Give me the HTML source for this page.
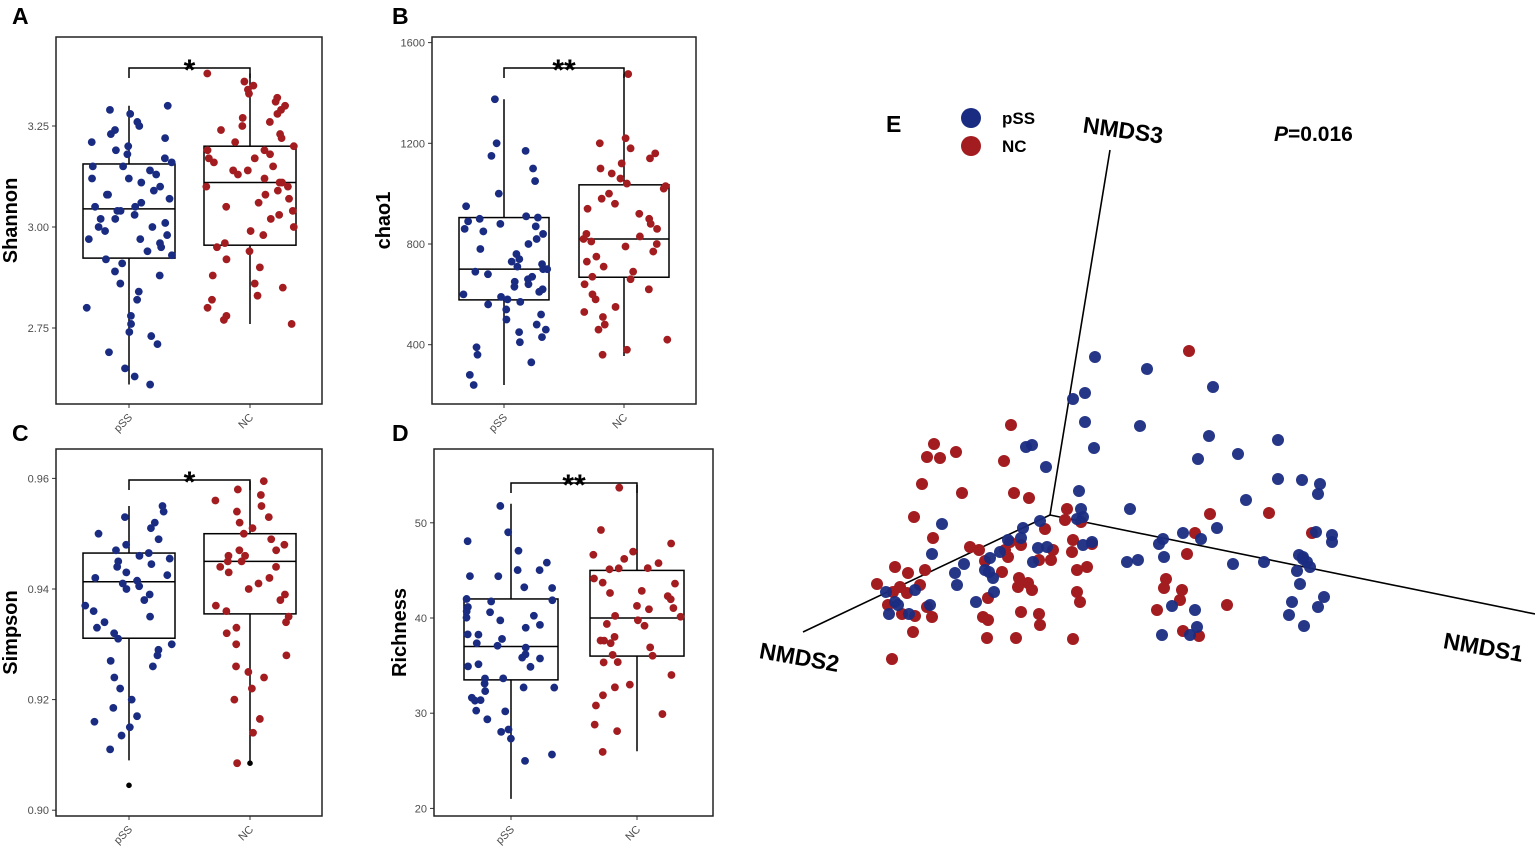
<!DOCTYPE html>
<html><head><meta charset="utf-8">
<style>
html,body{margin:0;padding:0;background:#fff;}
svg{display:block;font-family:"Liberation Sans",Arial,sans-serif;}
</style></head>
<body>
<svg id="fig" width="1535" height="849" viewBox="0 0 1535 849" xmlns="http://www.w3.org/2000/svg">
<g id="panels"></g>
</svg>
<script>
// ---------- data ----------
const groups = ["pSS","NC"];
const shannonPSS = [2.61,2.63,2.65,2.69,2.71,2.73,2.74,2.76,2.78,2.80,2.82,2.84,2.86,2.88,2.89,2.91,2.92,2.93,2.94,2.95,2.96,2.97,2.97,2.98,2.99,3.00,3.00,3.01,3.02,3.02,3.03,3.04,3.04,3.05,3.05,3.06,3.07,3.08,3.08,3.09,3.10,3.11,3.12,3.12,3.13,3.14,3.15,3.15,3.16,3.17,3.18,3.19,3.20,3.21,3.22,3.23,3.24,3.25,3.26,3.28,3.29,3.30];
const shannonNC = [2.76,2.77,2.78,2.80,2.82,2.83,2.85,2.86,2.88,2.90,2.92,2.94,2.95,2.96,2.98,2.99,3.00,3.02,3.03,3.04,3.05,3.06,3.07,3.08,3.09,3.10,3.10,3.11,3.11,3.12,3.13,3.14,3.14,3.15,3.16,3.17,3.17,3.18,3.19,3.19,3.20,3.21,3.22,3.23,3.24,3.25,3.26,3.27,3.28,3.29,3.30,3.31,3.32,3.33,3.34,3.35,3.36,3.38];
const shannonBox = [[2.61,2.923,3.045,3.156,3.30],[2.76,2.955,3.11,3.20,3.38]];
const shannonTicks = [2.75,3.00,3.25];

const chaoPSS = [240,280,330,360,390,410,430,450,460,480,500,520,540,560,570,580,590,600,610,620,630,640,650,660,670,680,690,700,700,710,720,730,740,760,780,800,820,840,850,860,870,880,890,900,905,910,950,1000,1050,1100,1150,1170,1200,1375];
const chaoNC = [360,380,420,460,480,510,530,550,580,600,620,640,660,670,690,710,730,750,770,790,800,810,820,830,840,860,880,900,920,940,960,980,1000,1020,1030,1040,1060,1080,1100,1120,1140,1160,1180,1200,1220,1475];
const chaoBox = [[240,578,700,905,1375],[355,668,820,1035,1475]];
const chaoTicks = [400,800,1200,1600];

const simpPSS = [0.911,0.9135,0.915,0.916,0.917,0.9185,0.920,0.922,0.924,0.926,0.927,0.928,0.929,0.930,0.931,0.932,0.933,0.934,0.935,0.936,0.937,0.938,0.939,0.940,0.9405,0.941,0.9415,0.942,0.9425,0.943,0.944,0.9445,0.945,0.9455,0.946,0.9465,0.947,0.948,0.949,0.950,0.951,0.952,0.953,0.954,0.955];
const simpNC = [0.9085,0.914,0.9165,0.920,0.922,0.924,0.925,0.926,0.928,0.930,0.932,0.933,0.934,0.935,0.936,0.937,0.938,0.939,0.940,0.941,0.942,0.943,0.944,0.944,0.945,0.945,0.946,0.946,0.947,0.947,0.948,0.949,0.950,0.951,0.952,0.953,0.954,0.955,0.956,0.957,0.958,0.9595];
const simpBox = [[0.909,0.9311,0.9413,0.9465,0.955],[0.9085,0.9355,0.945,0.950,0.9595]];
const simpOutliers = [[0.9045],[0.9085]];
const simpTicks = [0.90,0.92,0.94,0.96];

const richPSS = [25,26,27,28,28,29,30,30,31,31,32,32,33,33,33,34,34,35,35,35,36,36,36,37,37,37,38,38,38,39,39,40,40,40,41,41,41,42,42,42,43,43,44,44,45,45,46,47,48,49,52];
const richNC = [26,28,29,30,31,32,33,33,34,35,35,36,36,37,37,38,38,38,39,39,40,40,40,41,41,41,42,42,43,43,44,44,44,45,45,45,46,46,47,47,48,49,54];
const richBox = [[21,33.5,37,42,52],[26,36,40,45,54]];
const richTicks = [20,30,40,50];

// NMDS projected coordinates (u right, v up relative to origin)
const nmdsBlueU = [45,97,163,23,35,35,90,159,228,148,188,44,228,252,270,268,196,29,80,266,282,282,133,151,109,88,183,214,77,114,253,249,253,257,260,247,250,254,274,268,239,242,145,140,147,122,112,167,113,33,27,31,42,33,-10,-4,-18,-24,-27,-42,-29,-50,-60,-118,-95,-86,-65,-57,-93,-135,-164,-155,-141,-120,-108,-61,-56,-74,-161,-152,-17,-3,-12];
const nmdsBlueV = [158,146,128,116,122,93,89,79,75,56,61,67,36,35,31,21,15,24,6,-17,-20,-27,-18,-24,-29,-45,-49,-47,-47,-42,-42,-40,-44,-47,-52,-56,-69,-111,-82,-92,-100,-87,-95,-120,-112,-91,-120,-13,-24,-2,-4,6,-27,-30,-6,48,70,68,-13,-25,-23,-37,-43,-39,-58,-49,-55,-63,-70,-75,-77,-87,-99,-90,-9,-57,-77,-87,-99,-90,-47,-32,-33];
const nmdsRedU = [139,-39,-116,-94,-123,-110,-46,-128,-88,-36,-21,-136,17,15,31,-5,160,219,145,262,-117,137,-80,-71,-65,-45,-40,-29,-48,-42,3,1,-11,23,22,42,37,27,116,114,132,130,107,177,27,30,-31,-22,-18,-32,-62,-67,-62,-29,-11,-10,-63,-34,23,133,149,-155,-150,-143,-157,-142,-125,-130,-173,-162,-123,-135,-118,-148,-137,-158];
const nmdsRedV = [164,90,71,63,58,57,54,31,22,22,17,-2,6,-5,-7,-14,1,2,-18,-18,-23,-39,-32,-35,-46,-35,-27,-30,-57,-42,-35,-45,-45,-25,-37,-29,-52,-55,-64,-73,-75,-85,-95,-90,-77,-87,-63,-68,-75,-72,-83,-102,-105,-97,-99,-110,-123,-123,-124,-116,-121,-52,-72,-78,-77,-58,-55,-70,-69,-90,-92,-101,-102,-99,-117,-144];

// ---------- helpers ----------
const NS = "http://www.w3.org/2000/svg";
const root = document.getElementById('panels');
const BLUE = "#1a2c82", RED = "#a21c20";
function mk(tag, attrs, parent){
  const e = document.createElementNS(NS, tag);
  for (const k in attrs) e.setAttribute(k, attrs[k]);
  (parent||root).appendChild(e);
  return e;
}
function jit(i, seed){ const s = Math.sin((i+1)*12.9898 + seed*78.233)*43758.5453; return (s - Math.floor(s)) - 0.5; }

function boxPanel(cfg){
  const g = mk('g', {});
  
  
  const F = cfg.frame;
  const yS = v => cfg.y0 - (v - cfg.v0) * cfg.k;
  const xC = [cfg.cx[0], cfg.cx[1]];
  cfg.ticks.forEach(t => {
    const y = yS(t);
    const tl = mk('line', {x1:F[0]-4, x2:F[0], y1:y, y2:y, stroke:'#333', 'stroke-width':1}, g);
    
    
    const tx = mk('text', {x:F[0]-7, y:y+4, 'text-anchor':'end', 'font-size':11, fill:'#4d4d4d'}, g);
    tx.textContent = cfg.fmt(t);
    
    
  });
  groups.forEach((gn, i) => {
    const tl = mk('line', {x1:xC[i], x2:xC[i], y1:F[3], y2:F[3]+4, stroke:'#333', 'stroke-width':1}, g);
    
    
    const tx = mk('text', {x:xC[i]+4, y:F[3]+14, 'text-anchor':'end', 'font-size':11, fill:'#4d4d4d', transform:`rotate(-45 ${xC[i]+4} ${F[3]+14})`}, g);
    tx.textContent = gn;
    
    
  });
  const yt = mk('text', {x:0, y:0, 'text-anchor':'middle', 'font-size':20, 'font-weight':'bold', fill:'#000', transform:`translate(${cfg.titleX} ${(F[1]+F[3])/2}) rotate(-90)`}, g);
  yt.textContent = cfg.title;
  
  
  cfg.box.forEach((b, i) => {
    const x = xC[i], hw = cfg.hw;
    const w = mk('line', {x1:x, x2:x, y1:yS(b[0]), y2:yS(b[4]), stroke:'#000', 'stroke-width':1.5}, g);
    
    
    const r = mk('rect', {x:x-hw, y:yS(b[3]), width:2*hw, height:yS(b[1])-yS(b[3]), fill:'#fff', stroke:'#000', 'stroke-width':1.5}, g);
    
    
    const m = mk('line', {x1:x-hw, x2:x+hw, y1:yS(b[2]), y2:yS(b[2]), stroke:'#000', 'stroke-width':1.5}, g);
    
    
  });
  if (cfg.outliers) cfg.outliers.forEach((arr, i) => arr.forEach(v => {
    const c = mk('circle', {cx:xC[i], cy:yS(v), r:2.8, fill:'#000'}, g);
    
    
  }));
  [cfg.a, cfg.b].forEach((arr, gi) => {
    arr.forEach((v, i) => {
      const dx = jit(i, gi*7 + cfg.seed) * 2 * cfg.jw;
      const dy = cfg.yj ? jit(i, gi*3 + 11 + cfg.seed) * 0.8 * cfg.k : 0;
      const c = mk('circle', {cx:xC[gi]+dx, cy:yS(v)+dy, r:3.9, fill: gi ? RED : BLUE}, g);
      
      
    });
  });
  const fr = mk('rect', {x:F[0], y:F[1], width:F[2]-F[0], height:F[3]-F[1], fill:'none', stroke:'#222', 'stroke-width':1.5}, g);
  
  
  const by = cfg.br;
  const br = mk('path', {d:`M${xC[0]} ${by+10} V${by} H${xC[1]} V${by+10}`, fill:'none', stroke:'#000', 'stroke-width':1.5}, g);
  
  
  const st = mk('text', {x:(xC[0]+xC[1])/2, y:by+12, 'text-anchor':'middle', 'font-size':30, 'font-weight':'bold'}, g);
  st.textContent = cfg.star;
  
  
  const pl = mk('text', {x:cfg.letterX, y:cfg.letterY, 'font-size':23, 'font-weight':'bold'}, g);
  pl.textContent = cfg.letter;
  
  
}

boxPanel({name:'shannon-panel', letter:'A', letterX:12, letterY:24, frame:[56,37,322,404], y0:227, v0:3.0, k:404, ticks:shannonTicks, fmt:v=>v.toFixed(2), cx:[129,250], hw:46, jw:44, a:shannonPSS, b:shannonNC, box:shannonBox, title:'Shannon', titleX:17, br:68, star:'*', seed:1});
boxPanel({name:'chao1-panel', letter:'B', letterX:392, letterY:24, frame:[432,37,696,404], y0:244, v0:800, k:0.25175, ticks:chaoTicks, fmt:v=>String(v), cx:[504,624], hw:45, jw:44, a:chaoPSS, b:chaoNC, box:chaoBox, title:'chao1', titleX:390, br:68, star:'**', seed:5});
boxPanel({name:'simpson-panel', letter:'C', letterX:12, letterY:441, frame:[56,449,322,816], y0:589, v0:0.94, k:5530, ticks:simpTicks, fmt:v=>v.toFixed(2), cx:[129,250], hw:46, jw:44, a:simpPSS, b:simpNC, box:simpBox, outliers:simpOutliers, title:'Simpson', titleX:17, br:480, star:'*', seed:9});
boxPanel({name:'richness-panel', letter:'D', letterX:392, letterY:441, frame:[434,449,713,816], y0:618, v0:40, k:9.52, ticks:richTicks, fmt:v=>String(v), cx:[511,637], hw:47, jw:45, a:richPSS, b:richNC, box:richBox, title:'Richness', titleX:406, br:483, star:'**', seed:13, yj:true});

// ---------- NMDS panel ----------
(function(){
  const g = mk('g', {});
  
  
  const OX = 1050, OY = 515;
  const xS = u => OX + u, yS = v => OY - v;
  const axes = [[1110,150,'nmds3-axis'],[1535,614,'nmds1-axis'],[803,632,'nmds2-axis']];
  axes.forEach(a => {
    const l = mk('line', {x1:OX, y1:OY, x2:a[0], y2:a[1], stroke:'#000', 'stroke-width':1.6}, g);
    
    
  });
  nmdsRedU.forEach((u, i) => {
    const c = mk('circle', {cx:xS(u), cy:yS(nmdsRedV[i]), r:6, fill:RED}, g);
    
    
  });
  nmdsBlueU.forEach((u, i) => {
    const c = mk('circle', {cx:xS(u), cy:yS(nmdsBlueV[i]), r:6, fill:BLUE, 'fill-opacity':0.95}, g);
    
    
  });
  const labels = [['NMDS3',1122,138,8],['NMDS2',798,665,10],['NMDS1',1482,655,10]];
  labels.forEach(L => {
    const t = mk('text', {x:L[1], y:L[2], 'text-anchor':'middle', 'font-size':23, 'font-weight':'bold', transform:`rotate(${L[3]} ${L[1]} ${L[2]})`}, g);
    t.textContent = L[0];
    
    
  });
  const E = mk('text', {x:886, y:132, 'font-size':23, 'font-weight':'bold'}, g);
  E.textContent = 'E';
  
  
  const legend = mk('g', {}, g);
  
  
  [['pSS',BLUE,118],['NC',RED,146]].forEach(it => {
    const c = mk('circle', {cx:971, cy:it[2], r:10, fill:it[1]}, legend);
    
    
    const t = mk('text', {x:1002, y:it[2]+6, 'font-size':17, 'font-weight':'bold'}, legend);
    t.textContent = it[0];
    
    
  });
  const p = mk('text', {x:1274, y:141, 'font-size':21, 'font-weight':'bold'}, g);
  p.innerHTML = '<tspan font-style="italic">P</tspan>=0.016';
  
  
})();
</script>
</body></html>
